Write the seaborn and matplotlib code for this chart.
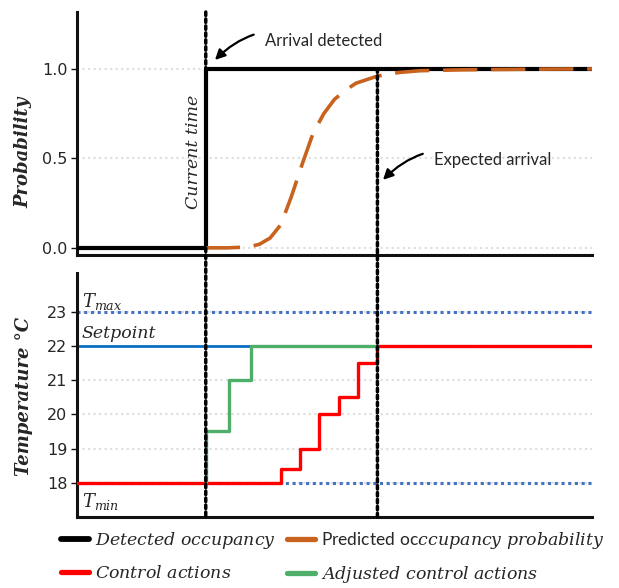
import matplotlib
matplotlib.use("Agg")
import matplotlib.pyplot as plt
import numpy as np
import pandas as pd
import seaborn as sns
from matplotlib.patches import ConnectionPatch
from matplotlib.lines import Line2D

# ---------------- data ----------------
current_time = 6
expected_arrival = 14
time_range = [0, 24]

detected_x = [0, 6, 24]
detected_y = [0, 1, 1]

pred_x = [6, 7, 8, 8.5, 9, 9.5, 10, 10.5, 11, 11.5, 12, 12.5, 13, 14, 15, 16, 18, 20, 22, 24]
pred_p = [0, 0, 0.005, 0.02, 0.055, 0.13, 0.29, 0.47, 0.64, 0.75, 0.83, 0.88, 0.92,
          0.96, 0.98, 0.99, 0.995, 0.997, 0.999, 1.0]

control_x = [0, 9.5, 10.4, 11.3, 12.2, 13.1, 14, 24]
control_y = [18, 18.4, 19, 20, 20.5, 21.5, 22, 22]

adjusted_x = [6, 6, 7.1, 8.1, 14]
adjusted_y = [18, 19.5, 21, 22, 22]

setpoint = 22
setpoint_x = [0, 14]
t_max = 23
t_min = 18

prob_ticks = [0.0, 0.5, 1.0]
prob_labels = ["0.0", "0.5", "1.0"]
temp_ticks = [18, 19, 20, 21, 22, 23]

legend_labels = [r"$Detected\ occupancy$", r"$Control\ actions$",
                 r"$\mathrm{Predicted\ oc}ccupancy\ probability$",
                 r"$Adjusted\ control\ actions$"]

# ---------------- style ----------------
sns.set_theme(style="white")
plt.rcParams["font.family"] = ["DejaVu Sans"]
plt.rcParams["mathtext.fontset"] = "custom"
plt.rcParams["mathtext.rm"] = "Lato"
plt.rcParams["mathtext.it"] = "DejaVu Serif:italic"
plt.rcParams["mathtext.bf"] = "DejaVu Serif:bold"

BLACK = "#000000"
ORANGE = "#C8621C"
RED = "#FF0000"
GREEN = "#4FAE69"
BLUE = "#0A6FC2"
DOTBLUE = "#4472C4"
SERIF = "DejaVu Serif"
SANS = "Lato"

fig = plt.figure(figsize=(6.19, 5.88), dpi=100)
ax1 = fig.add_axes([0.1244, 0.5663, 0.832, 0.4133])
ax2 = fig.add_axes([0.1244, 0.1207, 0.832, 0.415])

# ---------------- top panel ----------------
df_det = pd.DataFrame({"t": detected_x, "p": detected_y})
df_pred = pd.DataFrame({"t": pred_x, "p": pred_p})
sns.lineplot(data=df_det, x="t", y="p", ax=ax1, color=BLACK, lw=3.0,
             drawstyle="steps-post", estimator=None, sort=False, zorder=3)
sns.lineplot(data=df_pred, x="t", y="p", ax=ax1, color=ORANGE, lw=2.6,
             linestyle=(0, (9.5, 3.8)), estimator=None, sort=False, zorder=4)

ax1.set_xlim(*time_range)
ax1.set_ylim(-0.04, 1.318)
ax1.set_yticks(prob_ticks)
ax1.set_yticklabels(prob_labels)
ax1.set_xticks([])
ax1.set_xlabel("")
ax1.set_ylabel("Probability", family=SERIF, style="italic", weight="bold", fontsize=13)
ax1.yaxis.set_label_coords(-0.086, 0.424)
ax1.yaxis.grid(True, linestyle=":", color="#DDDDDD", lw=1.5, zorder=0)

ax1.text(current_time - 0.55, 0.536, "Current time", rotation=90, ha="center", va="center",
         family=SERIF, style="italic", fontsize=12.5)

ax1.annotate("Arrival detected", xy=(current_time + 0.43, 1.05), xytext=(8.76, 1.156),
             ha="left", va="center", family=SANS, fontsize=12,
             arrowprops=dict(arrowstyle="-|>,head_length=0.5,head_width=0.25", color=BLACK,
                             lw=1.6, shrinkA=6, shrinkB=0,
                             connectionstyle="arc3,rad=0.35"))
ax1.annotate("Expected arrival", xy=(expected_arrival + 0.26, 0.38), xytext=(16.64, 0.49),
             ha="left", va="center", family=SANS, fontsize=12,
             arrowprops=dict(arrowstyle="-|>,head_length=0.5,head_width=0.25", color=BLACK,
                             lw=1.6, shrinkA=6, shrinkB=0,
                             connectionstyle="arc3,rad=0.35"))

# ---------------- bottom panel ----------------
ax2.yaxis.grid(True, linestyle=":", color="#DDDDDD", lw=1.5, zorder=0)
ax2.axhline(t_max, color=DOTBLUE, linestyle=(0, (1, 1.2)), lw=2.2, zorder=1)
ax2.axhline(t_min, color=DOTBLUE, linestyle=(0, (1, 1.2)), lw=2.2, zorder=1)

df_set = pd.DataFrame({"t": setpoint_x, "T": [setpoint] * len(setpoint_x)})
df_ctrl = pd.DataFrame({"t": control_x, "T": control_y})
df_adj = pd.DataFrame({"t": adjusted_x, "T": adjusted_y})
sns.lineplot(data=df_set, x="t", y="T", ax=ax2, color=BLUE, lw=2.0,
             estimator=None, sort=False, zorder=2)
sns.lineplot(data=df_ctrl, x="t", y="T", ax=ax2, color=RED, lw=2.4,
             drawstyle="steps-post", estimator=None, sort=False, zorder=3)
sns.lineplot(data=df_adj, x="t", y="T", ax=ax2, color=GREEN, lw=2.4,
             drawstyle="steps-post", estimator=None, sort=False, zorder=4)

ax2.set_xlim(*time_range)
ax2.set_ylim(17.0, 24.13)
ax2.set_yticks(temp_ticks)
ax2.set_xticks([])
ax2.set_xlabel("")
ax2.set_ylabel("Temperature °C", family=SERIF, style="italic", weight="bold", fontsize=13)
ax2.yaxis.set_label_coords(-0.086, 0.494)

ax2.text(0.23, t_max + 0.3, r"$T_{max}$", ha="left", va="center", fontsize=13)
ax2.text(0.23, setpoint + 0.35, "Setpoint", ha="left", va="center",
         family=SERIF, style="italic", fontsize=12.5)
ax2.text(0.23, t_min - 0.56, r"$T_{min}$", ha="left", va="center", fontsize=13)

# ---------------- axes styling ----------------
for ax in (ax1, ax2):
    for side in ("top", "right"):
        ax.spines[side].set_visible(False)
    for side in ("left", "bottom"):
        ax.spines[side].set_color("#111111")
        ax.spines[side].set_linewidth(2.2)
    ax.tick_params(axis="y", which="major", left=True, length=4, width=1.0,
                   labelsize=11.5, pad=3, color="#111111")

# ---------------- vertical markers across panels ----------------
for xv, ytop in ((current_time, 1.318), (expected_arrival, 1.0)):
    con = ConnectionPatch(xyA=(xv, ytop), coordsA=ax1.transData,
                          xyB=(xv, 17.0), coordsB=ax2.transData,
                          color=BLACK, lw=2.5, linestyle=(0, (1, 1)), zorder=10)
    fig.add_artist(con)

# ---------------- legend ----------------
handles = [Line2D([], [], color=BLACK, lw=4.2),
           Line2D([], [], color=RED, lw=3.8),
           Line2D([], [], color=ORANGE, lw=3.8),
           Line2D([], [], color=GREEN, lw=3.8)]
leg = fig.legend(handles, legend_labels, ncol=2, loc="upper left",
                 bbox_to_anchor=(61 / 619, 1 - 530 / 588), frameon=False,
                 fontsize=12.5, handlelength=1.6, handletextpad=0.35,
                 columnspacing=0.65, labelspacing=0.75, borderpad=0, borderaxespad=0)

fig.savefig("out.png", dpi=100)
